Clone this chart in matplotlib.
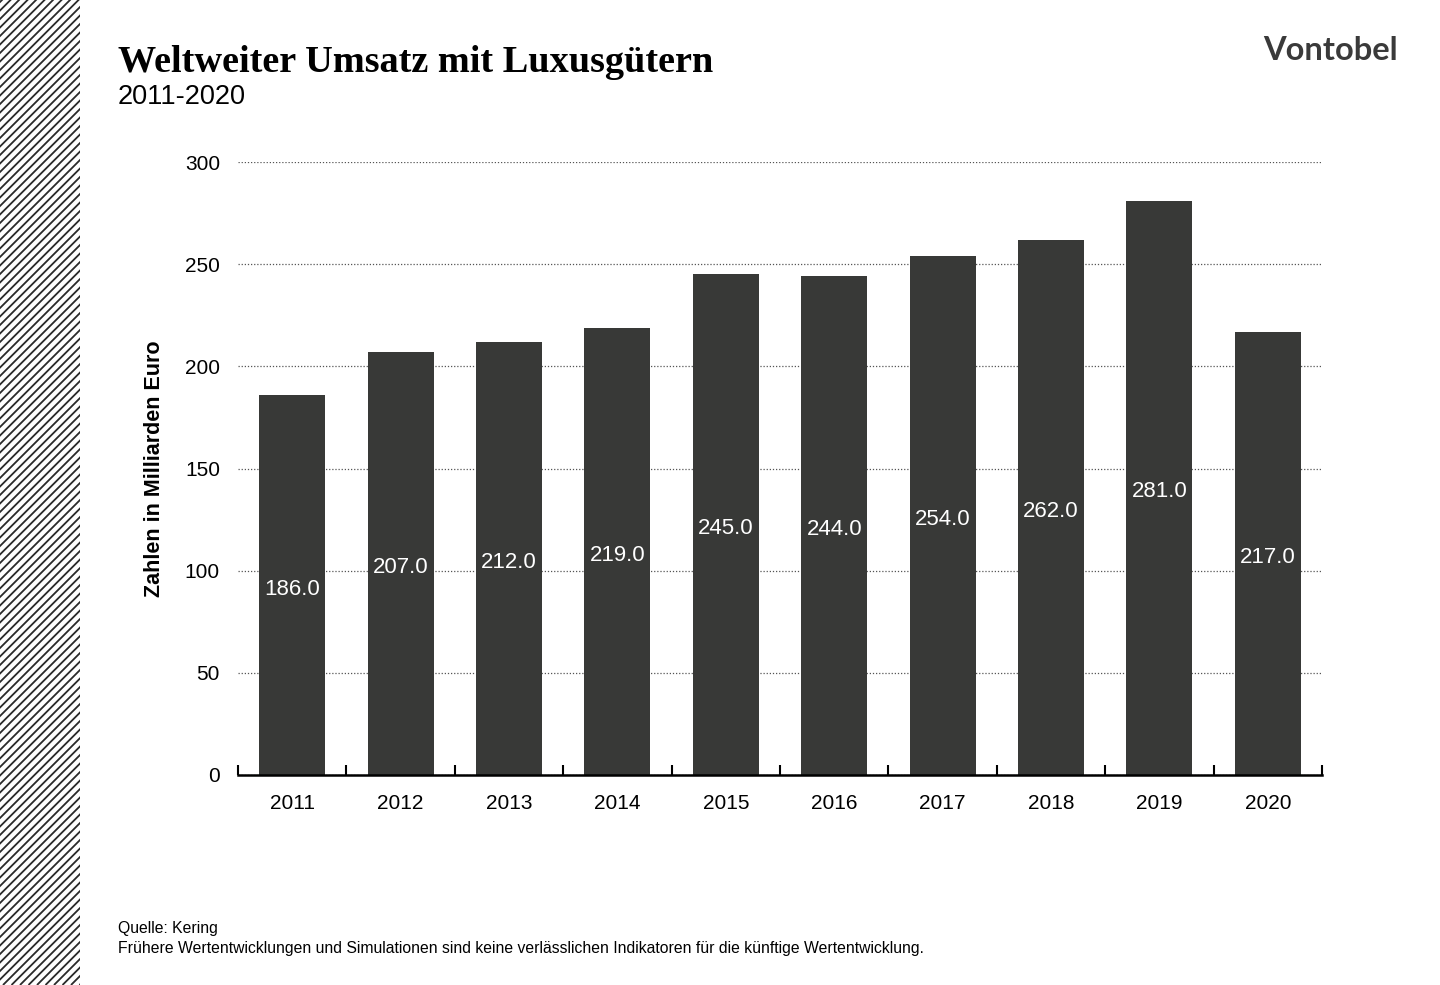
import matplotlib

matplotlib.use("Agg", force=True)
import matplotlib.pyplot as plt
import numpy as np

years = ["2011", "2012", "2013", "2014", "2015", "2016", "2017", "2018", "2019", "2020"]
sales = [186.0, 207.0, 212.0, 219.0, 245.0, 244.0, 254.0, 262.0, 281.0, 217.0]
y_ticks = [0, 50, 100, 150, 200, 250, 300]

plt.rcParams["font.family"] = ["Liberation Sans", "DejaVu Sans"]

fig = plt.figure(figsize=(14.4, 9.85), dpi=100)

# hatched stripe on the left edge
stripe = fig.add_axes([0, 0, 80 / 1440, 1])
stripe.set_xlim(0, 80)
stripe.set_ylim(0, 985)
stripe.axis("off")
for x0 in np.arange(-1000, 100, 8.5):
    stripe.plot([x0, x0 + 1000], [0, 1000], color="#2a2a2a", lw=1.3, solid_capstyle="butt")

ax = fig.add_axes([238 / 1440, 1 - 775 / 985, (1322 - 238) / 1440, (775 - 162) / 985])
x = np.arange(len(years))
ax.bar(x, sales, width=0.61, color="#383937", zorder=3)
for xi, v in zip(x, sales):
    ax.text(xi, v / 2 - 2, f"{v:.1f}", ha="center", va="center", color="white", fontsize=16, zorder=4)

ax.set_xlim(-0.5, len(years) - 0.5)
ax.set_ylim(0, 300)
ax.set_yticks(y_ticks)
ax.set_xticks(x)
ax.set_xticklabels(years)
ax.set_xticks(np.arange(-0.5, len(years), 1), minor=True)
ax.tick_params(axis="x", which="major", length=0, labelsize=15, pad=14)
ax.tick_params(axis="x", which="minor", length=7, direction="in", width=1.5)
ax.tick_params(axis="y", length=0, labelsize=15, pad=13)
ax.grid(axis="y", linestyle=(0, (1, 1.5)), color="#555555", lw=0.9, zorder=0)
for s in ["left", "right", "top"]:
    ax.spines[s].set_visible(False)
ax.spines["bottom"].set_linewidth(1.8)
ax.spines["bottom"].set_zorder(5)
ax.set_ylabel("Zahlen in Milliarden Euro", fontsize=15.5, fontweight="bold", labelpad=14)

fig.text(118 / 1440, 1 - 72 / 985, "Weltweiter Umsatz mit Luxusgütern",
         family="Liberation Serif", fontweight="bold", fontsize=27.5, va="baseline")
fig.text(118 / 1440, 1 - 104 / 985, "2011-2020", fontsize=19.5, va="baseline")
fig.text(1398 / 1440, 1 - 60 / 985, "Vontobel", family="Lato", fontweight="bold",
         fontsize=23.5, color="#3a3a3a", ha="right", va="baseline")

fig.text(118 / 1440, 1 - 933 / 985, "Quelle: Kering", fontsize=11.3, va="baseline")
fig.text(118 / 1440, 1 - 953 / 985,
         "Frühere Wertentwicklungen und Simulationen sind keine verlässlichen Indikatoren für die künftige Wertentwicklung.",
         fontsize=11.3, va="baseline")

fig.savefig("out.png", dpi=100)
